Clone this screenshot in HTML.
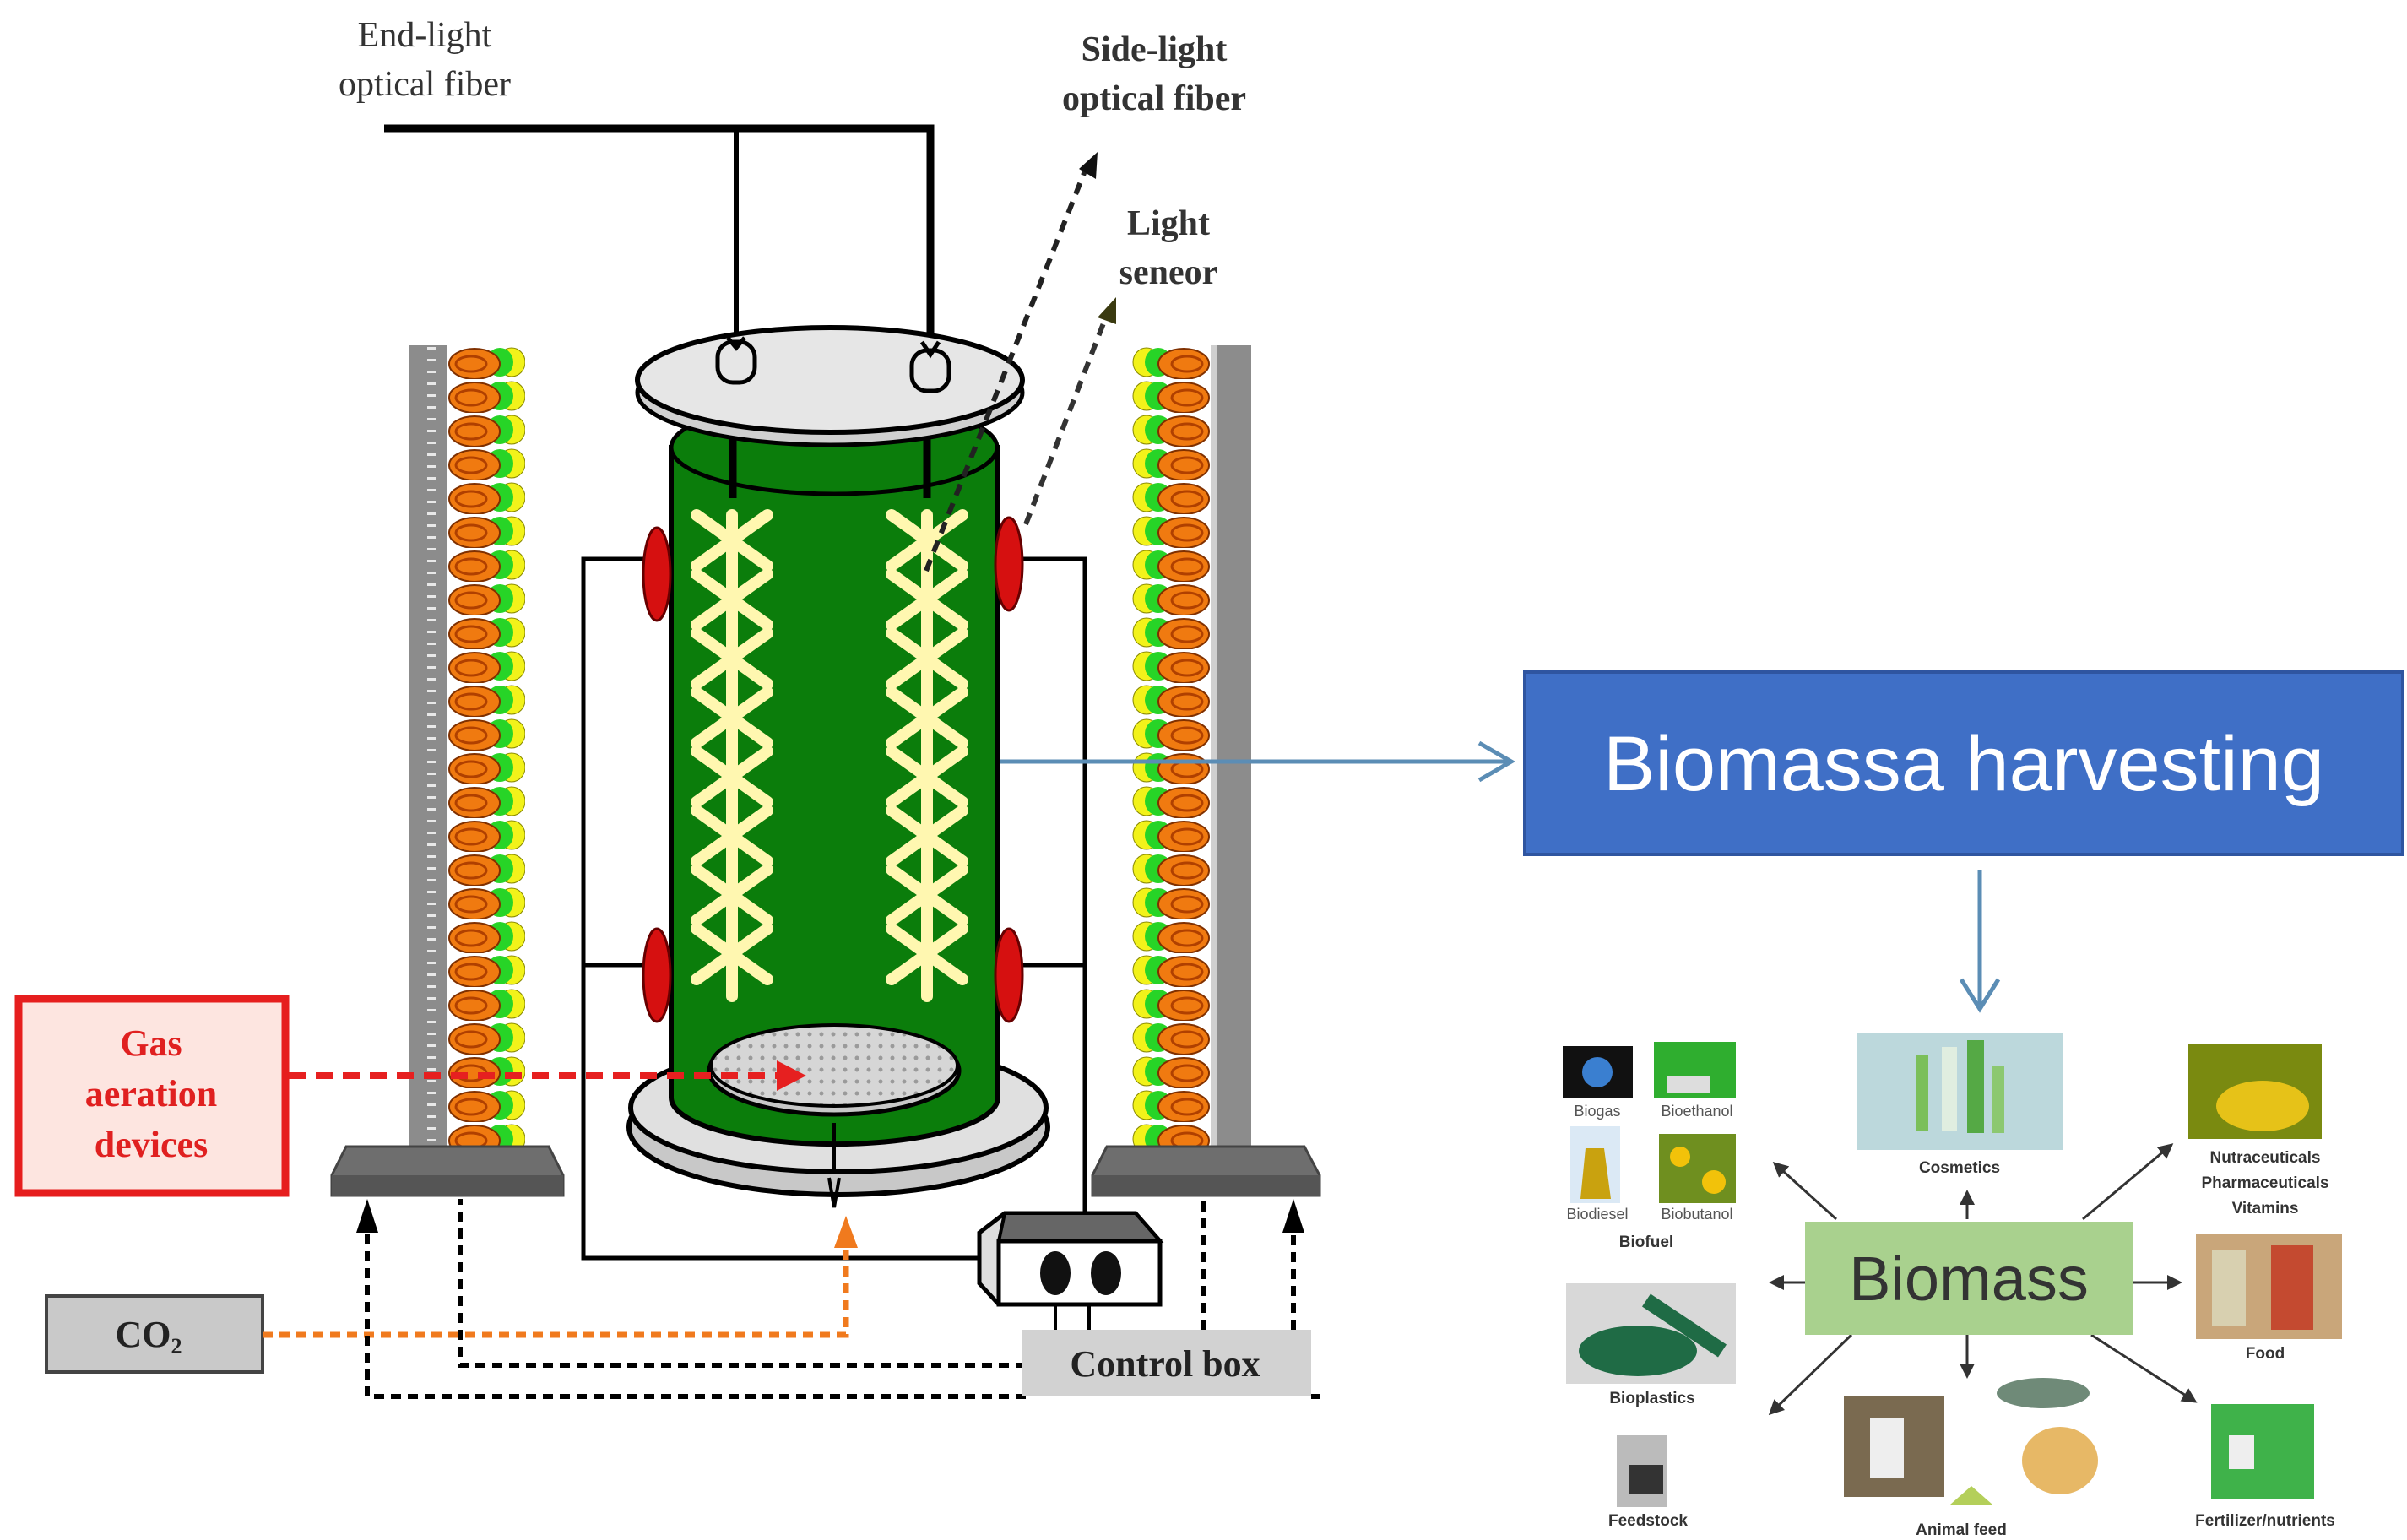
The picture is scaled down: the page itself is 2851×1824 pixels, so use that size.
<!DOCTYPE html>
<html><head><meta charset="utf-8"><style>
html,body{margin:0;padding:0;background:#fff;}
svg{display:block;}
.serif{font-family:"Liberation Serif",serif;}
.sans{font-family:"Liberation Sans",sans-serif;}
</style></head><body>
<svg width="2851" height="1824" viewBox="0 0 2851 1824" xmlns="http://www.w3.org/2000/svg">
<defs>
<pattern id="ledR" x="1338" y="409" width="100" height="40" patternUnits="userSpaceOnUse">
<ellipse cx="20" cy="20" rx="16" ry="17" fill="#f2f21a" stroke="#888800" stroke-width="1"/>
<ellipse cx="34" cy="20" rx="16" ry="17" fill="#27d427"/>
<ellipse cx="64" cy="22" rx="30" ry="18" fill="#f07a10" stroke="#803000" stroke-width="2"/>
<ellipse cx="68" cy="22" rx="18" ry="9" fill="none" stroke="#b04000" stroke-width="3"/>
</pattern>
<pattern id="ledL" x="530" y="409" width="100" height="40" patternUnits="userSpaceOnUse">
<ellipse cx="76" cy="20" rx="16" ry="17" fill="#f2f21a" stroke="#888800" stroke-width="1"/>
<ellipse cx="62" cy="20" rx="16" ry="17" fill="#27d427"/>
<ellipse cx="32" cy="22" rx="30" ry="18" fill="#f07a10" stroke="#803000" stroke-width="2"/>
<ellipse cx="28" cy="22" rx="18" ry="9" fill="none" stroke="#b04000" stroke-width="3"/>
</pattern>
<pattern id="ticks" width="46" height="14" patternUnits="userSpaceOnUse">
<rect width="46" height="14" fill="#8c8c8c"/>
<rect x="0" y="5" width="10" height="3" fill="#e8e8e8"/>
</pattern>
<pattern id="dots" width="14" height="14" patternUnits="userSpaceOnUse">
<rect width="14" height="14" fill="#d6d6d6"/><circle cx="7" cy="7" r="2.5" fill="#9a9a9a"/>
</pattern>
<marker id="ab" markerWidth="8" markerHeight="8" refX="6" refY="4" orient="auto" markerUnits="strokeWidth"><path d="M0,0 L8,4 L0,8 Z" fill="#000"/></marker>
<marker id="ablue" markerWidth="6" markerHeight="6" refX="5" refY="3" orient="auto" markerUnits="strokeWidth"><path d="M0,0 L5,3 L0,6" fill="none" stroke="#5b8db5" stroke-width="1.2"/></marker>
<marker id="as" markerWidth="6" markerHeight="6" refX="5" refY="3" orient="auto" markerUnits="strokeWidth"><path d="M0,0 L6,3 L0,6 Z" fill="#333"/></marker>
</defs>

<!-- top texts -->
<text class="serif" x="503" y="55" font-size="42" text-anchor="middle" fill="#333">End-light</text>
<text class="serif" x="503" y="113" font-size="42" text-anchor="middle" fill="#333">optical fiber</text>
<text class="serif" x="1367" y="72" font-size="42" font-weight="bold" text-anchor="middle" fill="#333">Side-light</text>
<text class="serif" x="1367" y="130" font-size="42" font-weight="bold" text-anchor="middle" fill="#333">optical fiber</text>
<text class="serif" x="1384" y="278" font-size="42" font-weight="bold" text-anchor="middle" fill="#333">Light</text>
<text class="serif" x="1384" y="336" font-size="42" font-weight="bold" text-anchor="middle" fill="#333">seneor</text>

<!-- fiber lines -->
<path d="M455,152 H1102 V400" fill="none" stroke="#000" stroke-width="9"/>
<path d="M872,152 V400" fill="none" stroke="#000" stroke-width="6"/>

<!-- wires -->
<path d="M790,662 H691 V1490 H1160" fill="none" stroke="#000" stroke-width="5"/>
<path d="M691,1143 H790" fill="none" stroke="#000" stroke-width="5"/>
<path d="M1190,662 H1285 V1443" fill="none" stroke="#000" stroke-width="5"/>
<path d="M1190,1143 H1285" fill="none" stroke="#000" stroke-width="5"/>

<!-- LED panels -->
<rect x="484" y="409" width="46" height="950" fill="url(#ticks)"/>
<rect x="530" y="409" width="92" height="950" fill="url(#ledL)"/>
<rect x="1338" y="409" width="96" height="950" fill="url(#ledR)"/>
<rect x="1434" y="409" width="48" height="950" fill="#8c8c8c"/>
<rect x="1434" y="409" width="8" height="950" fill="#cfcfcf"/>
<path d="M410,1358 H650 L667,1392 V1416 H393 V1392 Z" fill="#6e6e6e" stroke="#444" stroke-width="3"/>
<rect x="393" y="1392" width="274" height="24" fill="#555"/>
<path d="M1311,1358 H1545 L1563,1392 V1416 H1294 V1392 Z" fill="#6e6e6e" stroke="#444" stroke-width="3"/>
<rect x="1294" y="1392" width="269" height="24" fill="#555"/>

<!-- base plate -->
<ellipse cx="993" cy="1335" rx="248" ry="80" fill="#c8c8c8" stroke="#000" stroke-width="6"/>
<ellipse cx="993" cy="1312" rx="246" ry="76" fill="#e0e0e0" stroke="#000" stroke-width="6"/>
<!-- cylinder -->
<path d="M795,530 V1300 A193,55 0 0 0 1182,1300 V530 Z" fill="#0b7d0b" stroke="#000" stroke-width="6"/>
<ellipse cx="988" cy="530" rx="193" ry="55" fill="#0b7d0b" stroke="#000" stroke-width="5"/>
<path d="M868,490 V590 M1098,490 V590" stroke="#000" stroke-width="9"/>
<!-- sparger -->
<ellipse cx="988" cy="1268" rx="148" ry="52" fill="#c8c8c8" stroke="#000" stroke-width="5"/>
<ellipse cx="988" cy="1262" rx="146" ry="48" fill="url(#dots)" stroke="#000" stroke-width="4"/>
<path d="M988,1330 V1390 M982,1395 L988,1430 L994,1395" stroke="#000" stroke-width="4" fill="none"/>

<!-- star columns -->
<g stroke="#fff7b0" stroke-width="14" stroke-linecap="round" fill="none">
<path d="M867,610 V1180 M1098,610 V1180"/>
<path d="M825,610 l84,60 M909,610 l-84,60 M825,680 l84,60 M909,680 l-84,60 M825,750 l84,60 M909,750 l-84,60 M825,820 l84,60 M909,820 l-84,60 M825,890 l84,60 M909,890 l-84,60 M825,960 l84,60 M909,960 l-84,60 M825,1030 l84,60 M909,1030 l-84,60 M825,1100 l84,60 M909,1100 l-84,60"/>
<path d="M1056,610 l84,60 M1140,610 l-84,60 M1056,680 l84,60 M1140,680 l-84,60 M1056,750 l84,60 M1140,750 l-84,60 M1056,820 l84,60 M1140,820 l-84,60 M1056,890 l84,60 M1140,890 l-84,60 M1056,960 l84,60 M1140,960 l-84,60 M1056,1030 l84,60 M1140,1030 l-84,60 M1056,1100 l84,60 M1140,1100 l-84,60"/>
</g>

<!-- red knobs -->
<g fill="#d61010" stroke="#600" stroke-width="3">
<ellipse cx="778" cy="680" rx="16" ry="55"/><ellipse cx="778" cy="1155" rx="16" ry="55"/>
<ellipse cx="1195" cy="668" rx="16" ry="55"/><ellipse cx="1195" cy="1155" rx="16" ry="55"/>
</g>

<!-- lid -->
<ellipse cx="983" cy="465" rx="228" ry="62" fill="#d0d0d0" stroke="#000" stroke-width="5"/>
<ellipse cx="983" cy="450" rx="228" ry="62" fill="#e6e6e6" stroke="#000" stroke-width="6"/>
<g fill="#e6e6e6" stroke="#000" stroke-width="5">
<rect x="850" y="405" width="44" height="48" rx="18"/><rect x="1080" y="415" width="44" height="48" rx="18"/>
</g>
<path d="M862,400 L872,412 L882,400 M1092,405 L1102,420 L1112,405" stroke="#000" stroke-width="5" fill="none"/>

<!-- dotted pointers -->
<path d="M1097,676 L1288,195" stroke="#222" stroke-width="6" stroke-dasharray="14,10" fill="none"/>
<path d="M1278,200 L1300,180 L1298,212 Z" fill="#111"/>
<path d="M1215,621 L1312,370" stroke="#333" stroke-width="6" stroke-dasharray="14,10" fill="none"/>
<path d="M1300,376 L1322,352 L1322,384 Z" fill="#3a3a10"/>

<!-- gas aeration -->
<rect x="22" y="1183" width="316" height="230" fill="#fde5e0" stroke="#e61e1e" stroke-width="9"/>
<text class="serif" x="179" y="1250" font-size="44" font-weight="bold" text-anchor="middle" fill="#e02020">Gas</text>
<text class="serif" x="179" y="1310" font-size="44" font-weight="bold" text-anchor="middle" fill="#e02020">aeration</text>
<text class="serif" x="179" y="1370" font-size="44" font-weight="bold" text-anchor="middle" fill="#e02020">devices</text>
<path d="M342,1274 H930" stroke="#e62020" stroke-width="8" stroke-dasharray="20,12"/>
<path d="M920,1256 L955,1274 L920,1292 Z" fill="#e62020"/>

<!-- CO2 -->
<rect x="55" y="1535" width="256" height="90" fill="#c9c9c9" stroke="#444" stroke-width="4"/>
<text class="serif" x="176" y="1595" font-size="44" font-weight="bold" text-anchor="middle" fill="#222">CO<tspan font-size="26" dy="8">2</tspan></text>
<path d="M311,1581 H1002 V1470" fill="none" stroke="#f07a1e" stroke-width="7" stroke-dasharray="12,8"/>
<path d="M988,1478 L1002,1440 L1016,1478 Z" fill="#f07a1e"/>

<!-- black dashed control lines -->
<g fill="none" stroke="#000" stroke-width="6" stroke-dasharray="12,8">
<path d="M1215,1654 H435 V1450"/>
<path d="M1215,1617 H545 V1420"/>
<path d="M1553,1654 H1563"/>
<path d="M1426,1575 V1420"/>
<path d="M1532,1575 V1450"/>
</g>
<path d="M422,1460 L435,1420 L448,1460 Z" fill="#000"/>
<path d="M1519,1460 L1532,1420 L1545,1460 Z" fill="#000"/>

<!-- control device -->
<path d="M1160,1460 L1190,1437 H1345 L1374,1470 V1545 H1183 L1160,1520 Z" fill="#ddd" stroke="#000" stroke-width="5"/>
<path d="M1190,1437 H1345 L1374,1470 H1183 Z" fill="#666" stroke="#000" stroke-width="4"/>
<rect x="1183" y="1470" width="191" height="75" fill="#fff" stroke="#000" stroke-width="5"/>
<ellipse cx="1250" cy="1508" rx="18" ry="26" fill="#111"/>
<ellipse cx="1310" cy="1508" rx="18" ry="26" fill="#111"/>
<path d="M1250,1545 V1575 M1290,1545 V1575" stroke="#000" stroke-width="4"/>
<rect x="1210" y="1575" width="343" height="79" fill="#d2d2d2"/>
<text class="serif" x="1380" y="1630" font-size="44" font-weight="bold" text-anchor="middle" fill="#222">Control box</text>

<!-- blue arrows -->
<path d="M1184,902 H1785" stroke="#5b8db5" stroke-width="5" fill="none"/>
<path d="M1752,880 L1790,902 L1752,924" stroke="#5b8db5" stroke-width="5" fill="none"/>
<path d="M2345,1030 V1190" stroke="#5b8db5" stroke-width="5" fill="none"/>
<path d="M2323,1160 L2345,1195 L2367,1160" stroke="#5b8db5" stroke-width="5" fill="none"/>

<!-- Biomassa harvesting -->
<rect x="1806" y="796" width="1040" height="216" fill="#3f6fc6" stroke="#2f55a0" stroke-width="4"/>
<text class="sans" x="2326" y="936" font-size="92" text-anchor="middle" fill="#fff">Biomassa harvesting</text>

<!-- Biomass hub -->
<g stroke="#333" stroke-width="3" marker-end="url(#as)" fill="none">
<path d="M2175,1444 L2102,1378"/>
<path d="M2330,1444 V1412"/>
<path d="M2467,1444 L2572,1356"/>
<path d="M2138,1519 H2098"/>
<path d="M2526,1519 H2582"/>
<path d="M2193,1581 L2097,1674"/>
<path d="M2330,1581 V1630"/>
<path d="M2477,1581 L2600,1660"/>
</g>
<rect x="2138" y="1447" width="388" height="134" fill="#a9d18e"/>
<text class="sans" x="2332" y="1540" font-size="74" text-anchor="middle" fill="#333">Biomass</text>

<!-- product images -->
<rect x="1851" y="1239" width="83" height="62" fill="#111"/><circle cx="1892" cy="1270" r="18" fill="#3a7fd0"/>
<rect x="1959" y="1234" width="97" height="67" fill="#2fae2f"/><rect x="1975" y="1275" width="50" height="20" fill="#ddd"/>
<rect x="1860" y="1334" width="59" height="91" fill="#dbe9f5"/><path d="M1878,1360 L1872,1420 H1908 L1900,1360 Z" fill="#c9a20f"/>
<rect x="1965" y="1343" width="91" height="82" fill="#6f8f1f"/><circle cx="1990" cy="1370" r="12" fill="#f2c20a"/><circle cx="2030" cy="1400" r="14" fill="#f2c20a"/>
<g class="sans" font-size="18" fill="#555" text-anchor="middle">
<text x="1892" y="1322">Biogas</text><text x="2010" y="1322">Bioethanol</text>
<text x="1892" y="1444">Biodiesel</text><text x="2010" y="1444">Biobutanol</text>
</g>
<rect x="2199" y="1224" width="244" height="138" fill="#bcd8dc"/>
<rect x="2270" y="1250" width="14" height="90" fill="#7bbf5a"/><rect x="2300" y="1240" width="18" height="100" fill="#e0eee0"/><rect x="2330" y="1232" width="20" height="110" fill="#55a945"/><rect x="2360" y="1262" width="14" height="80" fill="#8cc870"/>
<rect x="2592" y="1237" width="158" height="112" fill="#7a8a10"/><ellipse cx="2680" cy="1310" rx="55" ry="30" fill="#e6c218"/>
<rect x="2601" y="1462" width="173" height="124" fill="#c9a67a"/><rect x="2620" y="1480" width="40" height="90" fill="#d8d0b0"/><rect x="2690" y="1475" width="50" height="100" fill="#c44a30"/>
<rect x="1855" y="1520" width="201" height="119" fill="#d8d8d8"/><ellipse cx="1940" cy="1600" rx="70" ry="30" fill="#1f6b45"/><path d="M1950,1540 L2040,1600" stroke="#1f6b45" stroke-width="18"/>
<rect x="1915" y="1700" width="60" height="85" fill="#bbb"/><rect x="1930" y="1735" width="40" height="35" fill="#333"/>
<rect x="2184" y="1654" width="119" height="119" fill="#7a6a50"/><rect x="2215" y="1680" width="40" height="70" fill="#eee"/>
<ellipse cx="2420" cy="1650" rx="55" ry="18" fill="#6f8a78"/>
<ellipse cx="2440" cy="1730" rx="45" ry="40" fill="#e7b866"/>
<path d="M2310,1782 L2335,1760 L2360,1782 Z" fill="#b4cf5a"/>
<rect x="2619" y="1663" width="122" height="113" fill="#3fb24a"/><rect x="2640" y="1700" width="30" height="40" fill="#eee"/>
<g class="sans" font-size="19" font-weight="bold" fill="#333" text-anchor="middle">
<text x="1950" y="1477">Biofuel</text>
<text x="2321" y="1389">Cosmetics</text>
<text x="2683" y="1377">Nutraceuticals</text>
<text x="2683" y="1407">Pharmaceuticals</text>
<text x="2683" y="1437">Vitamins</text>
<text x="2683" y="1609">Food</text>
<text x="1957" y="1662">Bioplastics</text>
<text x="1952" y="1807">Feedstock</text>
<text x="2323" y="1818">Animal feed</text>
<text x="2683" y="1807">Fertilizer/nutrients</text>
</g>
</svg>
</body></html>
